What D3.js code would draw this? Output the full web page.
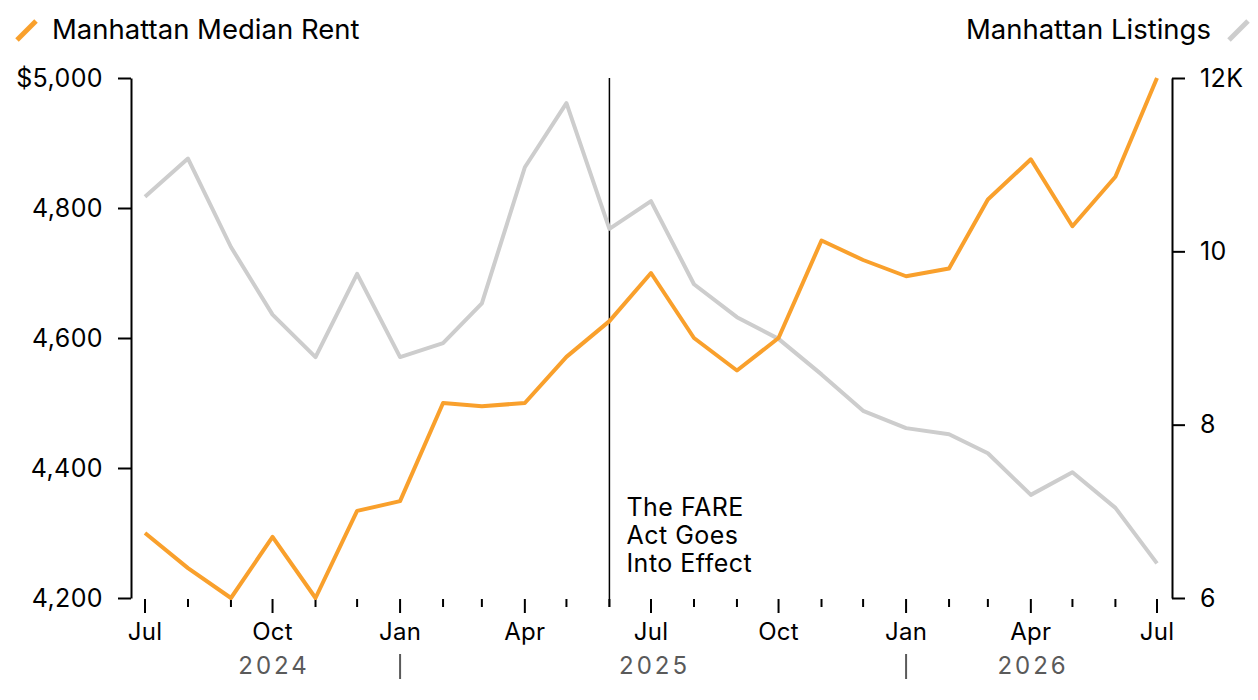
<!DOCTYPE html>
<html>
<head>
<meta charset="utf-8">
<script src="https://cdn.jsdelivr.net/npm/d3@7"></script>
<style>
  body { margin: 0; background: #fff; }
  svg text { font-family: Inter, "Liberation Sans", sans-serif; }
</style>
</head>
<body>
<svg id="chart"></svg>
<script>
// monthly data, Jul 2024 - Jul 2026
var months = ["2024-07","2024-08","2024-09","2024-10","2024-11","2024-12",
              "2025-01","2025-02","2025-03","2025-04","2025-05","2025-06",
              "2025-07","2025-08","2025-09","2025-10","2025-11","2025-12",
              "2026-01","2026-02","2026-03","2026-04","2026-05","2026-06","2026-07"];
// Manhattan median rent ($)
var rent = [4300,4246,4200,4294,4200,4334,
            4349,4500,4495,4500,4571,4626,
            4700,4600,4550,4600,4750,4720,
            4695,4707,4813,4875,4772,4848,5000];
// Manhattan listings (thousands)
var listings = [10.63,11.07,10.05,9.27,8.78,9.74,
                8.78,8.94,9.40,10.97,11.71,10.26,
                10.58,9.62,9.24,8.99,8.58,8.16,
                7.96,7.89,7.67,7.19,7.45,7.04,6.40];

var rentTicks = [4200,4400,4600,4800,5000];
var listingTicks = [6,8,10,12];
var years = ["2024","2025","2026"];
var eventDate = "2025-06";
var eventLabel = ["The FARE","Act Goes","Into Effect"];
var rentName = "Manhattan Median Rent";
var listingName = "Manhattan Listings";

var orange = "#f9a02c";
var grey = "#cdcdcd";

var parse = d3.timeParse("%Y-%m");

var screen = {width:1258, height:700};
var margins = {top:78, bottom:102, left:145, right:101};
var graph = {
    width:screen.width-margins.left-margins.right,
    height:screen.height-margins.top-margins.bottom
};

var svg = d3.select("#chart")
    .attr("width",screen.width)
    .attr("height",screen.height);

var dates = months.map(parse);

var xScale = d3.scaleTime()
    .domain(d3.extent(dates))
    .range([margins.left, margins.left+graph.width]);

var yRent = d3.scaleLinear()
    .domain([4200,5000])
    .range([margins.top+graph.height, margins.top]);

var yList = d3.scaleLinear()
    .domain([6,12])
    .range([margins.top+graph.height, margins.top]);

// left axis
var leftX = margins.left-14;
var leftAxis = d3.axisLeft(yRent)
    .tickValues(rentTicks)
    .tickSize(13)
    .tickSizeOuter(0)
    .tickPadding(15)
    .tickFormat(function(d){ return d==5000 ? "$"+d3.format(",")(d) : d3.format(",")(d); });
var gl = svg.append("g")
    .attr("transform","translate("+leftX+",0)")
    .call(leftAxis);

// right axis
var rightX = margins.left+graph.width+15;
var rightAxis = d3.axisRight(yList)
    .tickValues(listingTicks)
    .tickSize(13)
    .tickSizeOuter(0)
    .tickPadding(15)
    .tickFormat(function(d){ return d==12 ? d+"K" : d; });
var gr = svg.append("g")
    .attr("transform","translate("+rightX+",0)")
    .call(rightAxis);

[gl,gr].forEach(function(g){
    g.select(".domain").attr("stroke","#000").attr("stroke-width",2);
    g.selectAll(".tick line").attr("stroke","#000").attr("stroke-width",2);
    g.selectAll(".tick text")
        .attr("font-size",25)
        .attr("letter-spacing",0.4)
        .attr("fill","#000");
});

// bottom axis: monthly ticks, quarter labels longer
var bottomY = margins.top+graph.height+1;
var isQuarter = function(d){ return d.getMonth()%3==0; };
var xg = svg.append("g").attr("class","xaxis");
xg.selectAll("line")
    .data(dates)
    .enter()
    .append("line")
    .attr("x1",function(d){ return xScale(d); })
    .attr("x2",function(d){ return xScale(d); })
    .attr("y1",bottomY)
    .attr("y2",function(d){ return bottomY + (isQuarter(d) ? 14 : 8); })
    .attr("stroke","#000")
    .attr("stroke-width",2);
xg.selectAll("text")
    .data(dates.filter(isQuarter))
    .enter()
    .append("text")
    .attr("x",function(d){ return xScale(d); })
    .attr("y",bottomY+41)
    .attr("text-anchor","middle")
    .attr("font-size",24)
    .attr("letter-spacing",0.3)
    .text(d3.timeFormat("%b"));

// year labels and separators
var first = dates[0], last = dates[dates.length-1];
years.forEach(function(y, i){
    var s = new Date(+y, 0, 1);
    var e = new Date(+y+1, 0, 1);
    if (s < first) s = first;
    if (e > last) e = last;
    svg.append("text")
        .attr("x",(xScale(s)+xScale(e))/2 + 1.5)
        .attr("y",bottomY+75)
        .attr("text-anchor","middle")
        .attr("font-size",24)
        .attr("letter-spacing",3)
        .attr("fill","#5a5a5a")
        .text(y);
    if (i>0) {
        svg.append("line")
            .attr("x1",xScale(new Date(+y,0,1)))
            .attr("x2",xScale(new Date(+y,0,1)))
            .attr("y1",bottomY+55)
            .attr("y2",bottomY+80)
            .attr("stroke","#5a5a5a")
            .attr("stroke-width",2);
    }
});

// event line
var ex = xScale(parse(eventDate));
svg.append("line")
    .attr("x1",ex).attr("x2",ex)
    .attr("y1",margins.top)
    .attr("y2",bottomY+8)
    .attr("stroke","#000")
    .attr("stroke-width",1.5);
svg.append("g")
    .selectAll("text")
    .data(eventLabel)
    .enter()
    .append("text")
    .attr("x",ex+17)
    .attr("y",function(d,i){ return 516+i*28; })
    .attr("font-size",25)
    .attr("letter-spacing",0.5)
    .text(function(d){ return d; });

// lines
var rentLine = d3.line()
    .x(function(d,i){ return xScale(dates[i]); })
    .y(function(d){ return yRent(d); });
var listLine = d3.line()
    .x(function(d,i){ return xScale(dates[i]); })
    .y(function(d){ return yList(d); });

svg.append("path")
    .datum(listings)
    .attr("d",listLine)
    .attr("fill","none")
    .attr("stroke",grey)
    .attr("stroke-width",4)
    .attr("stroke-linejoin","round");

svg.append("path")
    .datum(rent)
    .attr("d",rentLine)
    .attr("fill","none")
    .attr("stroke",orange)
    .attr("stroke-width",4)
    .attr("stroke-linejoin","round");

// legends
svg.append("line")
    .attr("x1",17).attr("y1",40).attr("x2",36).attr("y2",21)
    .attr("stroke",orange).attr("stroke-width",5);
svg.append("text")
    .attr("x",52).attr("y",39)
    .attr("font-size",27.5)
    .text(rentName);

svg.append("line")
    .attr("x1",1229).attr("y1",40).attr("x2",1248).attr("y2",21)
    .attr("stroke",grey).attr("stroke-width",5);
svg.append("text")
    .attr("x",1211).attr("y",39)
    .attr("text-anchor","end")
    .attr("font-size",27.5)
    .text(listingName);
</script>
</body>
</html>
